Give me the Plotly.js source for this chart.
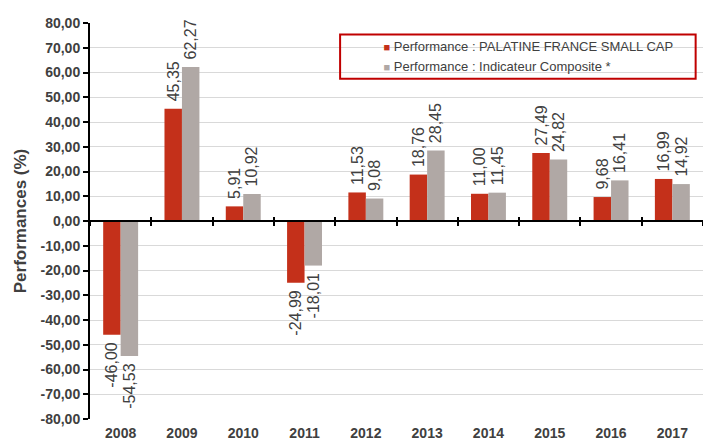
<!DOCTYPE html>
<html>
<head>
<meta charset="utf-8">
<script src="https://cdn.plot.ly/plotly-3.0.1.min.js"></script>
<style>html,body{margin:0;padding:0;background:#fff;}#chart{width:703px;height:441px;}</style>
</head>
<body>
<div id="chart"></div>
<script>
const years = ['2008','2009','2010','2011','2012','2013','2014','2015','2016','2017'];
const fundName = 'Performance : PALATINE FRANCE SMALL CAP';
const indexName = 'Performance : Indicateur Composite *';
const fundValues = [-46.00, 45.35, 5.91, -24.99, 11.53, 18.76, 11.00, 27.49, 9.68, 16.99];
const indexValues = [-54.53, 62.27, 10.92, -18.01, 9.08, 28.45, 11.45, 24.82, 16.41, 14.92];
const yTickVals = [80, 70, 60, 50, 40, 30, 20, 10, 0, -10, -20, -30, -40, -50, -60, -70, -80];
const yTickText = ['80,00','70,00','60,00','50,00','40,00','30,00','20,00','10,00','0,00',
                   '-10,00','-20,00','-30,00','-40,00','-50,00','-60,00','-70,00','-80,00'];
const yTitle = 'Performances (%)';

const RED = '#C4301A';
const GREY = '#B0A8A5';
const TXT = '#404040';
const FONT = 'Arial, "Liberation Sans", sans-serif';
// value label, padded on the side that faces the bar
const fmt = v => {
  const s = v.toFixed(2).replace('.', ',');
  return v >= 0 ? '\u00a0' + s : s + '\u00a0';
};

const barCommon = {
  type: 'bar', x: years, textposition: 'outside', textangle: -90,
  cliponaxis: false, constraintext: 'none',
  textfont: {family: FONT, size: 16, color: TXT},
  showlegend: false, hoverinfo: 'x+y'
};
const traces = [
  Object.assign({}, barCommon, {y: fundValues, text: fundValues.map(fmt), marker: {color: RED}, name: fundName}),
  Object.assign({}, barCommon, {y: indexValues, text: indexValues.map(fmt), marker: {color: GREY}, name: indexName}),
  {type: 'scatter', mode: 'markers', x: [years[0]], y: [null],
   name: '<span style="color:' + RED + ';font-size:11px">■</span> ' + fundName,
   marker: {symbol: 'square', size: 1, color: 'rgba(0,0,0,0)'}, showlegend: true},
  {type: 'scatter', mode: 'markers', x: [years[0]], y: [null],
   name: '<span style="color:' + GREY + ';font-size:11px">■</span> ' + indexName,
   marker: {symbol: 'square', size: 1, color: 'rgba(0,0,0,0)'}, showlegend: true}
];
const n = years.length;
const boundaries = [];
for (let i = 0; i <= n; i++) boundaries.push(i - 0.5);

const layout = {
  width: 703, height: 441,
  margin: {l: 90, r: 0, t: 23, b: 22},
  paper_bgcolor: '#fff', plot_bgcolor: '#fff',
  barmode: 'group', bargap: 0.43, bargroupgap: 0,
  font: {family: FONT, color: TXT},
  uniformtext: {mode: 'show', minsize: 16},
  showlegend: true,
  legend: {x: 0.4137, y: 0.98, xanchor: 'left', yanchor: 'top', bgcolor: 'rgba(0,0,0,0)',
           font: {family: FONT, size: 13, color: TXT}, tracegroupgap: 0, itemwidth: 30},
  shapes: [{type: 'rect', xref: 'paper', yref: 'paper', x0: 0.408, x1: 0.988, y0: 0.859, y1: 0.971,
            line: {color: '#C00000', width: 2}, fillcolor: 'rgba(0,0,0,0)', layer: 'above'}],
  xaxis: {type: 'category', categoryarray: years, range: [-0.5, n - 0.5],
          showline: false, ticks: '', showgrid: false, zeroline: false,
          tickfont: {family: FONT, size: 14, color: TXT, weight: 'bold'},
          ticklabelstandoff: 4, fixedrange: true},
  xaxis2: {overlaying: 'x', anchor: 'free', position: 0.5, type: 'linear', range: [-0.5, n - 0.5],
           tickmode: 'array', tickvals: boundaries, showticklabels: false,
           ticks: 'outside', ticklen: 4, tickwidth: 2, tickcolor: '#000',
           showline: true, linecolor: '#000', linewidth: 2, showgrid: false, zeroline: false},
  xaxis3: {overlaying: 'x', anchor: 'free', position: 0.5, type: 'linear', range: [-0.5, n - 0.5],
           tickmode: 'array', tickvals: boundaries, showticklabels: false,
           ticks: 'inside', ticklen: 4, tickwidth: 2, tickcolor: '#000',
           showline: false, showgrid: false, zeroline: false},
  yaxis: {range: [-80, 80], tickmode: 'array', tickvals: yTickVals, ticktext: yTickText,
          showline: true, linecolor: '#000', linewidth: 2, automargin: true,
          ticks: 'outside', ticklen: 5, tickwidth: 2, tickcolor: '#000',
          showgrid: true, gridcolor: '#D9D9D9', gridwidth: 1, zeroline: false,
          tickfont: {family: FONT, size: 14, color: TXT, weight: 'bold'},
          title: {text: yTitle, font: {family: FONT, size: 17, color: TXT, weight: 'bold'}, standoff: 10}}
};
traces.push({type: 'scatter', x: [null], y: [null], xaxis: 'x2', showlegend: false, hoverinfo: 'skip'});
traces.push({type: 'scatter', x: [null], y: [null], xaxis: 'x3', showlegend: false, hoverinfo: 'skip'});
Plotly.newPlot('chart', traces, layout, {displayModeBar: false, staticPlot: true});
</script>
</body>
</html>
